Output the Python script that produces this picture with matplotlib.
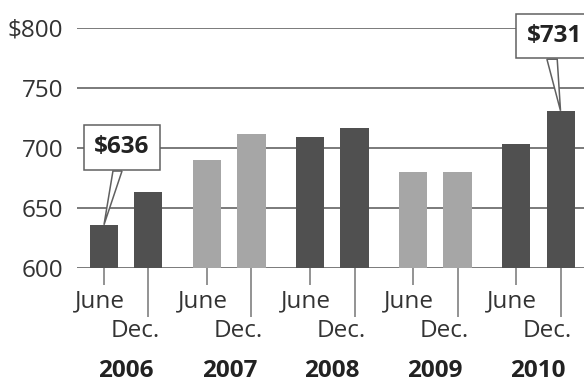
import matplotlib.pyplot as plt
from matplotlib.transforms import blended_transform_factory

plt.rcParams['font.family'] = ['Open Sans', 'DejaVu Sans']

years = ['2006', '2007', '2008', '2009', '2010']
june = [636, 690, 709, 680, 703]
dec = [663, 712, 717, 680, 731]
year_colors = ['#505050', '#a6a6a6', '#505050', '#a6a6a6', '#505050']
y_ticks = [600, 650, 700, 750, 800]
y_labels = ['600', '650', '700', '750', '$800']
callouts = [(0, 'june', '$636'), (4, 'dec', '$731')]

fig = plt.figure(figsize=(5.84, 3.84), dpi=100)
ax = fig.add_axes([77 / 584, 116 / 384, 507 / 584, 240 / 384])

gap = 0.432
width = 0.272
june_x = [i for i in range(len(years))]
dec_x = [i + gap for i in range(len(years))]

for y in y_ticks:
    ax.axhline(y, color='#7a7a7a', lw=1.4, zorder=1)

ax.bar(june_x, [v - 600 for v in june], bottom=600, width=width, color=year_colors, zorder=2)
ax.bar(dec_x, [v - 600 for v in dec], bottom=600, width=width, color=year_colors, zorder=2)

ax.set_xlim(-0.262, 4.66)
ax.set_ylim(600, 800)
for s in ax.spines.values():
    s.set_visible(False)

fs = 17.5
ax.set_yticks(y_ticks)
ax.set_yticklabels(y_labels, fontsize=fs, color='#333333')
ax.tick_params(axis='y', length=0, pad=10)

# x ticks: short for June, long for Dec.
ax.set_xticks(june_x)
ax.set_xticklabels([])
ax.set_xticks(dec_x, minor=True)
ax.tick_params(axis='x', which='major', length=12, width=1.3, color='#8a8a8a', direction='out')
ax.tick_params(axis='x', which='minor', length=35, width=1.3, color='#8a8a8a', direction='out')

tr = blended_transform_factory(ax.transData, ax.transAxes)
for i, yr in enumerate(years):
    ax.text(june_x[i] - 0.04, -0.14, 'June', transform=tr, ha='center', va='center',
            fontsize=fs, color='#333333')
    ax.text(dec_x[i] - 0.13, -0.262, 'Dec.', transform=tr, ha='center', va='center',
            fontsize=fs, color='#333333')
    ax.text((june_x[i] + dec_x[i]) / 2, -0.43, yr, transform=tr, ha='center', va='center',
            fontsize=fs, fontweight='bold', color='#222222')

# callout boxes
box_pos = {0: (0.175, 700.5, 680.8, 0.087, 0.175), 4: (4.37, 793.5, 774.0, 4.30, 4.40)}
for i, which, label in callouts:
    tx, ty, bottom, b1, b2 = box_pos[i]
    tip_x = june_x[i] if which == 'june' else dec_x[i]
    tip_y = june[i] if which == 'june' else dec[i]
    ax.fill([b1, b2, tip_x], [bottom, bottom, tip_y], facecolor='white', edgecolor='#606060',
            lw=1.1, zorder=3, clip_on=False)
    ax.text(tx, ty, label, ha='center', va='center', fontsize=fs, fontweight='bold',
            color='#222222', zorder=4, clip_on=False,
            bbox=dict(boxstyle='square,pad=0.42', facecolor='white', edgecolor='#606060', lw=1.1))

fig.savefig('out.png', dpi=100)
